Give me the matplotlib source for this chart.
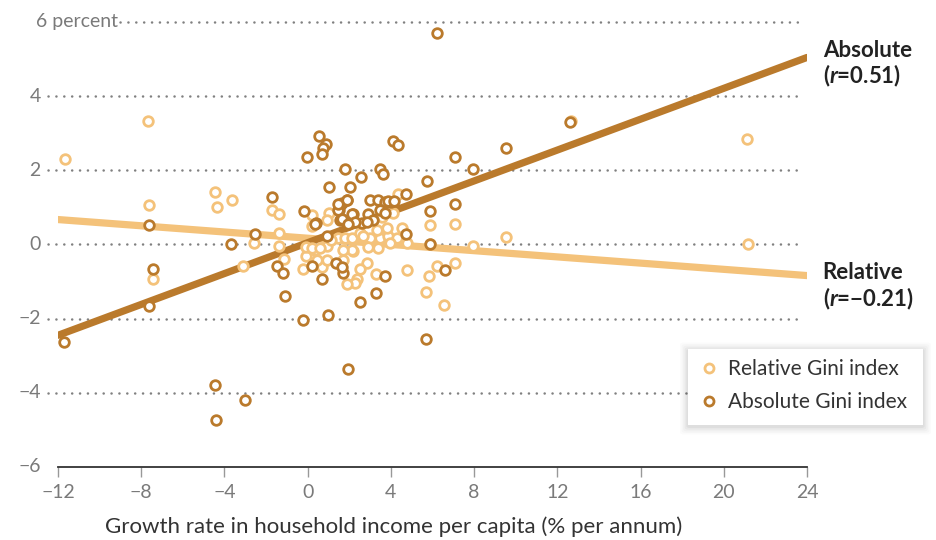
import matplotlib
matplotlib.use('Agg')
import matplotlib.pyplot as plt
from matplotlib.patches import FancyBboxPatch
from matplotlib.lines import Line2D

plt.rcParams['font.family'] = ['Lato', 'DejaVu Sans']
plt.rcParams['mathtext.fontset'] = 'custom'
plt.rcParams['mathtext.rm'] = 'Lato:bold'
plt.rcParams['mathtext.it'] = 'Lato:italic:bold'
plt.rcParams['mathtext.bf'] = 'Lato:bold'

# growth in household income per capita (x) vs change in Gini (y)
rel_x = [-11.67, -7.68, -7.62, -7.43, -4.45, -4.36, -3.64, -3.11, -2.58, -1.72,
         -1.38, -1.38, -1.38, -1.14, -0.22, -0.08, 0.21, 0.21, 1.03, 0.93,
         0.69, 0.93, 1.70, 2.18, 2.85, 2.51, 2.37, 2.27, 1.89, 3.28,
         4.78, 6.22, 5.83, 5.69, 7.08, 6.56, 7.95, 5.88, 7.08, 4.34,
         4.10, 3.57, 9.53, 12.66, 21.12, 21.16, 5.88, 1.46, 1.79, 2.13,
         2.51, 2.99, 3.48, 3.86, 4.29, 4.53, 4.78, 3.96, 3.38, 2.90,
         2.13, 1.70, -0.08, 0.35, 0.91, 3.83, 3.32, 2.67, 0.21, 0.59,
         0.45, 1.14]
rel_y = [2.29, 3.34, 1.05, -0.92, 1.40, 1.00, 1.19, -0.57, 0.03, 0.94,
         0.81, 0.30, -0.05, -0.38, -0.67, -0.30, 0.78, 0.49, 0.84, 0.65,
         -0.62, -0.43, -0.43, -0.19, -0.49, -0.67, -0.92, -1.05, -1.08, -0.81,
         -0.70, -0.57, -0.86, -1.27, -0.51, -1.64, -0.05, 0.51, 0.54, 1.37,
         0.84, 0.73, 0.19, 3.32, 2.83, 0.00, 0.00, 0.16, 0.16, 0.16,
         0.30, 0.16, 0.16, 0.24, 0.16, 0.43, 0.03, 0.03, -0.11, -0.08,
         -0.16, -0.16, -0.07, -0.16, -0.05, 0.45, 0.38, 0.24, -0.11, -0.11,
         -0.43, 0.11]

abs_x = [-11.70, -7.62, -7.43, -7.62, -4.46, -4.41, -3.02, -3.69, -2.53, -1.72,
         -1.48, -1.19, -1.09, -0.23, -0.03, 0.54, 0.88, 0.73, 0.69, -0.18,
         0.21, 0.69, 0.93, 1.02, 1.79, 2.03, 1.65, 1.89, 1.50, 2.18,
         1.36, 1.70, 1.94, 0.98, 2.56, 2.90, 3.00, 3.38, 3.48, 3.62,
         3.72, 4.00, 3.48, 3.72, 2.51, 3.28, 3.72, 4.10, 4.34, 4.73,
         4.73, 5.74, 5.88, 5.88, 5.69, 6.22, 6.60, 7.08, 7.08, 7.95,
         9.53, 12.61, 1.55, 2.03, 2.60, 3.14, 0.40, 1.56, 1.47, 1.63,
         2.12, 2.27, 2.84, 1.94, 3.86, 4.15, 1.88, 0.35, 1.47, 1.63]
abs_y = [-2.64, 0.51, -0.65, -1.67, -3.80, -4.74, -4.20, 0.00, 0.27, 1.29,
         -0.59, -0.78, -1.40, -2.05, 2.35, 2.91, 2.72, 2.61, 2.43, 0.89,
         -0.59, -0.94, 0.24, 1.56, 2.02, 1.56, 1.11, 1.21, 0.94, 0.81,
         -0.51, -0.78, -3.37, -1.91, 1.81, 0.81, 1.21, 1.21, 2.02, 1.91,
         1.13, 1.13, 0.92, 0.84, -1.56, -1.32, -0.86, 2.80, 2.67, 1.35,
         0.27, 1.70, 0.89, 0.00, -2.56, 5.71, -0.70, 2.35, 1.08, 2.02,
         2.59, 3.29, 0.65, 0.59, 0.59, 0.65, 0.59, 1.05, 0.92, 0.69,
         0.83, 0.60, 0.60, 0.54, 1.16, 1.16, 1.19, 0.56, 1.10, -0.61]

# fitted lines (end points)
fit_x = [-12, 24]
abs_fit = [-2.45, 5.04]
rel_fit = [0.67, -0.84]

y_grid = [6, 4, 2, 0, -2, -4]
y_labels = ['6 percent', '4', '2', '0', '\u22122', '\u22124', '\u22126']
x_ticks = [-12, -8, -4, 0, 4, 8, 12, 16, 20, 24]

dark = '#BA7A2C'
light = '#F4C27A'
grey = '#7a7a7a'

fig = plt.figure(figsize=(9.37, 5.4), dpi=100)
ax = fig.add_axes([0.0619, 0.1352, 0.7994, 0.845])
ax.set_xlim(-12, 24)
ax.set_ylim(-6, 6.3)

for s in ['top', 'right', 'left']:
    ax.spines[s].set_visible(False)
ax.spines['bottom'].set_color('#333333')
ax.spines['bottom'].set_linewidth(1.3)

ax.set_xticks(x_ticks)
ax.set_xticklabels([str(t).replace('-', '\u2212') for t in x_ticks])
ax.tick_params(axis='x', length=7, width=1, color='#999999', labelcolor=grey,
               labelsize=14, pad=5)
ax.set_yticks([])

# dotted grid lines
for g in y_grid:
    start = 0.083 if g == 6 else -0.0134
    ax.plot([start, 0.9933], [g, g], transform=ax.get_yaxis_transform(),
            color='#808080', lw=1.8, linestyle=(0, (0.05, 3.1)),
            dash_capstyle='round', clip_on=False, zorder=1)

# y labels
for g, lab in zip(y_grid + [-6], y_labels):
    if g == 6:
        ax.text(-0.029, g, lab, transform=ax.get_yaxis_transform(), ha='left',
                va='center', fontsize=14, color=grey)
    else:
        ax.text(-0.023, g, lab, transform=ax.get_yaxis_transform(), ha='right',
                va='center', fontsize=14, color=grey)

ax.plot(fit_x, rel_fit, color=light, lw=5.2, solid_capstyle='round', zorder=2)
ax.plot(fit_x, abs_fit, color=dark, lw=5.2, solid_capstyle='round', zorder=2)

ax.scatter(rel_x, rel_y, s=48, facecolors='white', edgecolors=light,
           linewidths=2.0, zorder=3, clip_on=False)
ax.scatter(abs_x, abs_y, s=48, facecolors='white', edgecolors=dark,
           linewidths=2.0, zorder=4, clip_on=False)

# end labels
lab_kw = dict(fontsize=16, fontweight='bold', color='#222222', va='center', ha='left')
ax.text(24.75, 5.23, 'Absolute', **lab_kw)
ax.text(24.75, 4.53, r'($\it{r}$=0.51)', **lab_kw)
ax.text(24.75, -0.75, 'Relative', **lab_kw)
ax.text(24.75, -1.46, '($\\it{r}$=\u22120.21)', **lab_kw)

fig.text(105 / 937, 1 - 527 / 540, 'Growth rate in household income per capita (% per annum)',
         fontsize=16, color='#333333', ha='left', va='center')

# legend box with soft shadow
lx0, ly0, lw_, lh_ = 688 / 937, 1 - 425 / 540, 235 / 937, 76 / 540
for i, a in enumerate([0.015, 0.02, 0.025, 0.03, 0.04]):
    pad = (5 - i) * 1.6
    fig.patches.append(FancyBboxPatch((lx0 - pad / 937, ly0 - (pad + 1.5) / 540),
                                      lw_ + 2 * pad / 937, lh_ + 2 * pad / 540,
                                      boxstyle='round,pad=0,rounding_size=0.004',
                                      transform=fig.transFigure,
                                      facecolor='black', edgecolor='none', alpha=a,
                                      zorder=5))
fig.patches.append(FancyBboxPatch((lx0, ly0), lw_, lh_, boxstyle='square,pad=0',
                                  transform=fig.transFigure, facecolor='white',
                                  edgecolor='none', zorder=6))
handles = [Line2D([], [], marker='o', ls='none', markersize=6.5, markerfacecolor='white',
                  markeredgecolor=light, markeredgewidth=2.0),
           Line2D([], [], marker='o', ls='none', markersize=6.5, markerfacecolor='white',
                  markeredgecolor=dark, markeredgewidth=2.0)]
leg = fig.legend(handles, ['Relative Gini index', 'Absolute Gini index'],
                 loc='upper left', bbox_to_anchor=(694 / 937, 1 - 355 / 540),
                 frameon=False, fontsize=15, handlelength=1.0, handletextpad=0.45,
                 labelspacing=0.62, borderaxespad=0, borderpad=0.2)
for t in leg.get_texts():
    t.set_color('#333333')
leg.set_zorder(7)

fig.savefig('out.png', dpi=100)
